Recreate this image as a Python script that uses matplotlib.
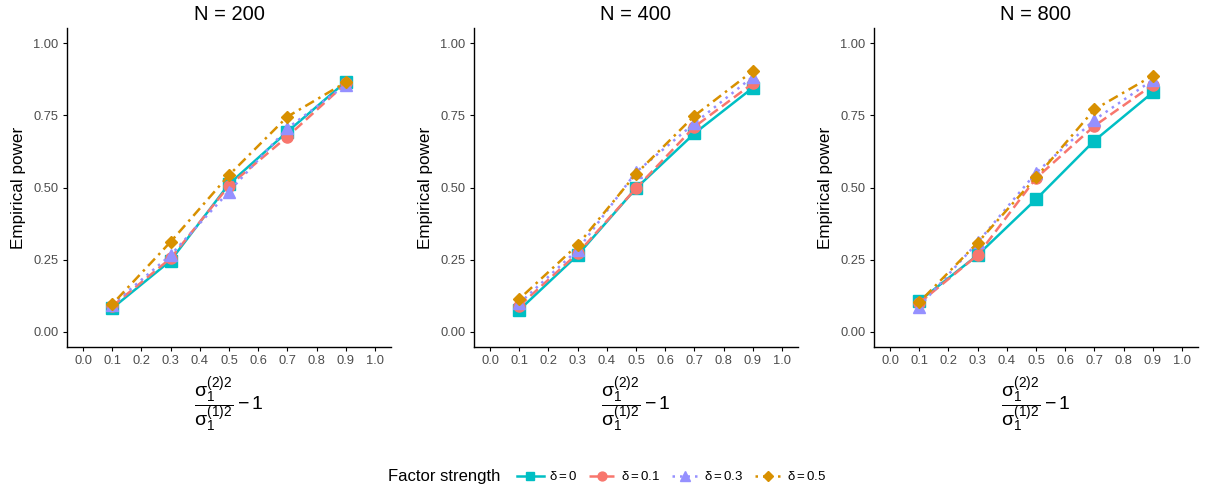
import numpy as np
import matplotlib.pyplot as plt

plt.rcParams['font.family'] = ['Liberation Sans', 'DejaVu Sans']
plt.rcParams['mathtext.fontset'] = 'custom'
plt.rcParams['mathtext.rm'] = 'Liberation Sans'
plt.rcParams['mathtext.it'] = 'Liberation Sans'
plt.rcParams['mathtext.sf'] = 'Liberation Sans'

# data
x = [0.1, 0.3, 0.5, 0.7, 0.9]
sample_sizes = ['N = 200', 'N = 400', 'N = 800']
deltas = ['0', '0.1', '0.3', '0.5']

power_200 = [
    [0.082, 0.247, 0.512, 0.693, 0.866],   # delta = 0
    [0.089, 0.255, 0.506, 0.676, 0.860],   # delta = 0.1
    [0.095, 0.266, 0.486, 0.705, 0.855],   # delta = 0.3
    [0.096, 0.312, 0.543, 0.745, 0.864],   # delta = 0.5
]
power_400 = [
    [0.076, 0.266, 0.497, 0.687, 0.845],
    [0.090, 0.272, 0.497, 0.710, 0.860],
    [0.099, 0.284, 0.553, 0.722, 0.883],
    [0.114, 0.301, 0.547, 0.748, 0.903],
]
power_800 = [
    [0.107, 0.266, 0.459, 0.662, 0.829],
    [0.100, 0.266, 0.532, 0.713, 0.855],
    [0.088, 0.310, 0.551, 0.734, 0.872],
    [0.103, 0.309, 0.535, 0.770, 0.887],
]
all_power = [power_200, power_400, power_800]

colors = ['#00BFC4', '#F8766D', '#9590FF', '#D89000']
markers = ['s', 'o', '^', 'D']
msizes = [8, 8, 9, 6.5]
styles = ['-', (0, (4, 2)), (0, (1, 2)), (0, (1, 2, 4, 2))]

fig = plt.figure(figsize=(12.09, 4.91), dpi=100)
lefts = [67, 474, 874]
W, H = 1209, 491
handles = []
for k in range(3):
    ax = fig.add_axes([lefts[k] / W, 1 - 347 / H, 324 / W, (347 - 28) / H])
    for j in range(4):
        ln, = ax.plot(x, all_power[k][j], color=colors[j], linestyle=styles[j],
                      linewidth=1.8, marker=markers[j], markersize=msizes[j],
                      label=r'$\delta = ' + deltas[j] + '$')
        if k == 0:
            handles.append(ln)
    ax.set_xlim(-0.055, 1.055)
    ax.set_ylim(-0.052, 1.052)
    ax.set_xticks(np.arange(0, 1.01, 0.1))
    ax.set_xticklabels(['%.1f' % v for v in np.arange(0, 1.01, 0.1)])
    ax.set_yticks([0, 0.25, 0.5, 0.75, 1.0])
    ax.set_yticklabels(['0.00', '0.25', '0.50', '0.75', '1.00'])
    for s in ['top', 'right']:
        ax.spines[s].set_visible(False)
    for s in ['left', 'bottom']:
        ax.spines[s].set_linewidth(1.0)
    ax.tick_params(labelsize=9.3, labelcolor='#4D4D4D', length=3, width=0.8, pad=3)
    ax.set_title(sample_sizes[k], fontsize=14.5, pad=6)
    ax.set_ylabel('Empirical power', fontsize=12.3, labelpad=5)
    ax.set_xlabel(r'$\dfrac{\sigma_1^{(2)2}}{\sigma_1^{(1)2}} - 1$', fontsize=14, labelpad=5)

fig.text(388 / W, 1 - 477 / H, 'Factor strength', fontsize=12, va='center', ha='left')
leg = fig.legend(handles=handles, loc='center left', bbox_to_anchor=(512 / W, 1 - 477 / H),
                 ncol=4, frameon=False, fontsize=9.5, handlelength=2.0, columnspacing=0.9,
                 handletextpad=0.4, borderaxespad=0, markerscale=0.8)

fig.savefig('out.png', dpi=100)
